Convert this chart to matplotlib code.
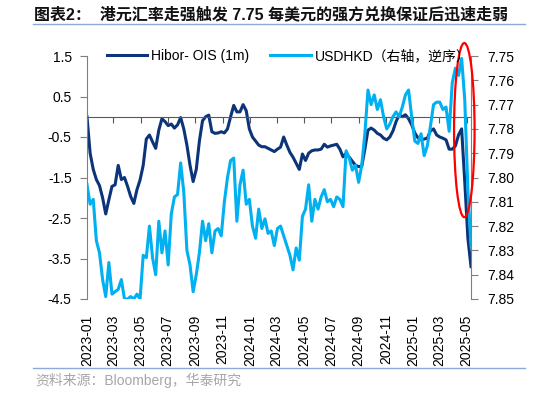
import matplotlib
matplotlib.use("Agg")
import matplotlib.pyplot as plt
import matplotlib.dates as mdates
from matplotlib.patches import Ellipse
from matplotlib.lines import Line2D
from matplotlib.font_manager import FontProperties
import numpy as np
import pandas as pd

# weekly observations, 2023-01-01 .. 2025-05-11
dates = pd.date_range("2023-01-01", periods=124, freq="7D")

hibor_ois = [
    0.0, -0.9, -1.3, -1.55, -1.7, -2.0, -2.4, -2.05, -1.72, -1.68,
    -1.2, -1.55, -1.5, -1.72, -1.97, -2.14, -1.8, -1.56, -1.2, -0.55,
    -0.45, -0.62, -0.78, -0.33, -0.05, -0.12, -0.22, -0.18, -0.28, -0.2,
    -0.02, -0.3, -0.7, -1.2, -1.6, -1.3, -0.6, -0.1, 0.0, 0.04,
    -0.37, -0.41, -0.4, -0.37, -0.4, -0.3, 0.0, 0.28, 0.12, 0.12,
    0.3, 0.15, -0.3, -0.5, -0.6, -0.7, -0.74, -0.74, -0.78, -0.82,
    -0.86, -0.8, -0.75, -0.5, -0.7, -0.88, -1.0, -1.15, -1.3, -0.92,
    -1.08, -0.9, -0.84, -0.82, -0.82, -0.8, -0.68, -0.75, -0.72, -0.7,
    -0.68, -0.8, -0.99, -0.9, -1.0, -1.1, -1.2, -1.23, -1.23, -0.8,
    -0.33, -0.28, -0.33, -0.41, -0.45, -0.53, -0.57, -0.5, -0.35, -0.12,
    0.05, 0.0, 0.05, -0.05, -0.2, -0.4, -0.52, -0.57, -0.55, -0.53,
    -0.35, -0.3, -0.45, -0.5, -0.53, -0.57, -0.8, -0.8, -0.72, -0.45,
    -0.3, -1.6, -3.0, -3.7,
]

usdhkd = [
    7.803, 7.811, 7.809, 7.826, 7.831, 7.842, 7.849, 7.835, 7.848, 7.847,
    7.846, 7.842, 7.850, 7.850, 7.849, 7.850, 7.848, 7.850, 7.832, 7.833,
    7.820, 7.833, 7.840, 7.818, 7.831, 7.822, 7.836, 7.815, 7.808, 7.807,
    7.794, 7.806, 7.830, 7.836, 7.847, 7.840, 7.831, 7.818, 7.826, 7.819,
    7.831, 7.822, 7.821, 7.824, 7.810, 7.800, 7.793, 7.792, 7.818, 7.803,
    7.797, 7.811, 7.809, 7.820, 7.825, 7.813, 7.821, 7.817, 7.823, 7.822,
    7.828, 7.821, 7.820, 7.824, 7.828, 7.832, 7.838, 7.829, 7.834, 7.816,
    7.813, 7.803, 7.818, 7.809, 7.813, 7.808, 7.805, 7.810, 7.809, 7.812,
    7.808, 7.809, 7.812, 7.789, 7.792, 7.797, 7.795, 7.802, 7.795, 7.782,
    7.764, 7.770, 7.766, 7.772, 7.768, 7.775, 7.780, 7.778, 7.775, 7.773,
    7.775, 7.771, 7.766, 7.764, 7.775, 7.785, 7.786, 7.782, 7.791, 7.787,
    7.779, 7.770, 7.769, 7.769, 7.772, 7.771, 7.781, 7.761, 7.755, 7.758,
    7.751, 7.768, 7.805, 7.828,
]

left_ticks = np.arange(-4.5, 1.6, 1.0)
right_ticks = np.arange(7.75, 7.851, 0.01)
month_ticks = pd.date_range("2023-01-01", "2025-05-01", freq="2MS")

DARK = "#0c3478"
LIGHT = "#00b0f0"
GREY = "#7f7f7f"
W, H = 534, 394

plt.rcParams["font.family"] = ["Liberation Sans", "Noto Sans CJK SC"]
fig = plt.figure(figsize=(W / 100, H / 100), dpi=100)
ax = fig.add_axes([87 / W, 1 - 299 / H, (471 - 87) / W, (299 - 56) / H])

l1, = ax.plot(dates, hibor_ois, color=DARK, lw=2.2, label="Hibor- OIS (1m)")
ax.set_xlim(dates[0], dates[-1])
ax.set_ylim(-4.5, 1.5)
ax.set_yticks(left_ticks)
ax.set_yticklabels([f"{v:.1f}" for v in left_ticks], fontsize=10)

# x axis crosses at zero, labels stay at the bottom
ax.spines["bottom"].set_position(("data", 0))
ax.spines["bottom"].set_color("#595959")
ax.spines["top"].set_visible(False)
ax.spines["right"].set_visible(False)
ax.spines["left"].set_color(GREY)
ax.set_xticks(month_ticks)
ax.tick_params(axis="x", direction="out", length=4, color="#595959", labelbottom=False)
ax.tick_params(axis="y", direction="out", length=5, color=GREY, pad=6)

sec = ax.secondary_xaxis(0.0)
sec.set_xticks(month_ticks)
sec.xaxis.set_major_formatter(mdates.DateFormatter("%Y-%m"))
sec.tick_params(length=0, pad=11, labelsize=10)
for lab in sec.get_xticklabels():
    lab.set_rotation(90)
sec.spines["bottom"].set_visible(False)

ax2 = ax.twinx()
l2, = ax2.plot(dates, usdhkd, color=LIGHT, lw=2.2, label="USDHKD（右轴，逆序）")
ax2.set_ylim(7.85, 7.75)
ax2.set_yticks(right_ticks)
ax2.set_yticklabels([f"{v:.2f}" for v in right_ticks], fontsize=10)
for s in ("top", "bottom", "left"):
    ax2.spines[s].set_visible(False)
ax2.spines["right"].set_color(GREY)
ax2.tick_params(axis="y", direction="out", length=5, color=GREY, pad=7)

# red ring around the May-2025 spike
ring = Ellipse((mdates.date2num(pd.Timestamp("2025-04-26")), -0.33), 46, 4.3,
               transform=ax.transData, fill=False, ec="red", lw=1.6, clip_on=False, zorder=5)
ax2.add_patch(ring)

fig.legend([l1, l2], [l1.get_label(), l2.get_label()], ncol=2, frameon=False,
           loc="center left", bbox_to_anchor=(107 / W, 1 - 56 / H),
           borderpad=0, borderaxespad=0, handlelength=2.9, handletextpad=0.3,
           columnspacing=1.5, prop=FontProperties(family=["Liberation Sans", "Noto Sans CJK SC"], size=10))

fig.text(34 / W, 1 - 14 / H, "图表2：  港元汇率走强触发 7.75 每美元的强方兑换保证后迅速走弱",
         fontsize=11.5, fontweight="bold", va="center", ha="left", color="#111111")
fig.add_artist(Line2D([33 / W, 525 / W], [1 - 23.5 / H] * 2, color="#8eaadb", lw=1))
fig.add_artist(Line2D([33 / W, 525 / W], [1 - 368 / H] * 2, color="#8eaadb", lw=1))
fig.text(35 / W, 1 - 380 / H, "资料来源：Bloomberg，华泰研究", fontsize=10, color="#a6a6a6", va="center")

fig.savefig("out.png", dpi=100)
